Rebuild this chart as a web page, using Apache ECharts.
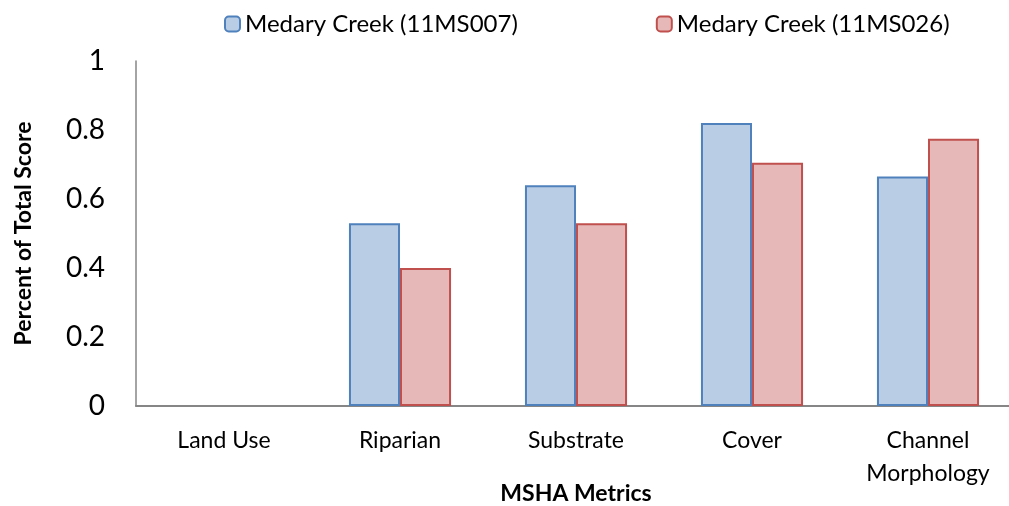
<!DOCTYPE html>
<html>
<head>
<meta charset="utf-8">
<script src="https://cdn.jsdelivr.net/npm/echarts@6/dist/echarts.min.js"></script>
<style>
  html, body { margin: 0; padding: 0; background: #fff; }
  #chart { width: 1009px; height: 506px; }
</style>
</head>
<body>
<div id="chart"></div>
<script>
// MSHA metric categories
const categories = ['Land Use', 'Riparian', 'Substrate', 'Cover', 'Channel\nMorphology'];
const seriesNames = ['Medary Creek (11MS007)', 'Medary Creek (11MS026)'];
// percent of total score per site (Land Use has no bar)
const site007 = [null, 0.53, 0.64, 0.82, 0.665];
const site026 = [null, 0.40, 0.53, 0.705, 0.775];
const yTicks = [0, 0.2, 0.4, 0.6, 0.8, 1];

const font = 'Lato, "Open Sans", sans-serif';

const chart = echarts.init(document.getElementById('chart'));
chart.setOption({
  animation: false,
  textStyle: { fontFamily: font, color: '#000' },
  legend: {
    top: 7,
    left: 219,
    itemGap: 138,
    itemWidth: 15,
    itemHeight: 15,
    textStyle: { fontSize: 24, fontFamily: font, color: '#000' },
    data: seriesNames
  },
  grid: { left: 136, right: -7, top: 61, bottom: 100, containLabel: false, outerBoundsMode: 'none' },
  xAxis: {
    type: 'category',
    data: categories,
    name: 'MSHA Metrics',
    nameLocation: 'middle',
    nameMoveOverlap: false,
    nameGap: 76,
    nameTextStyle: { fontSize: 23, fontWeight: 'bold', fontFamily: font, color: '#000' },
    axisLine: { lineStyle: { color: '#868686', width: 2 } },
    axisTick: { show: false },
    axisLabel: { fontSize: 23, color: '#000', margin: 18, lineHeight: 33, fontFamily: font }
  },
  yAxis: {
    type: 'value',
    min: 0,
    max: 1,
    interval: 0.2,
    name: 'Percent of Total Score',
    nameLocation: 'middle',
    nameMoveOverlap: false,
    nameGap: 101,
    nameTextStyle: { fontSize: 23, fontWeight: 'bold', fontFamily: font, color: '#000' },
    axisLine: { show: true, lineStyle: { color: '#868686', width: 1.5 } },
    axisTick: { show: false },
    splitLine: { show: false },
    axisLabel: {
      fontSize: 28, color: '#000', margin: 31, fontFamily: font,
      formatter: v => yTicks.includes(Math.round(v * 10) / 10) ? String(Math.round(v * 10) / 10) : ''
    }
  },
  series: [
    {
      name: seriesNames[0],
      type: 'bar',
      data: site007,
      barGap: '0%',
      barCategoryGap: '42%',
      itemStyle: { color: '#B9CDE5', borderColor: '#4F81BD', borderWidth: 2 }
    },
    {
      name: seriesNames[1],
      type: 'bar',
      data: site026,
      barGap: '0%',
      barCategoryGap: '42%',
      itemStyle: { color: '#E6B9B8', borderColor: '#C0504D', borderWidth: 2 }
    }
  ]
});
</script>
</body>
</html>
